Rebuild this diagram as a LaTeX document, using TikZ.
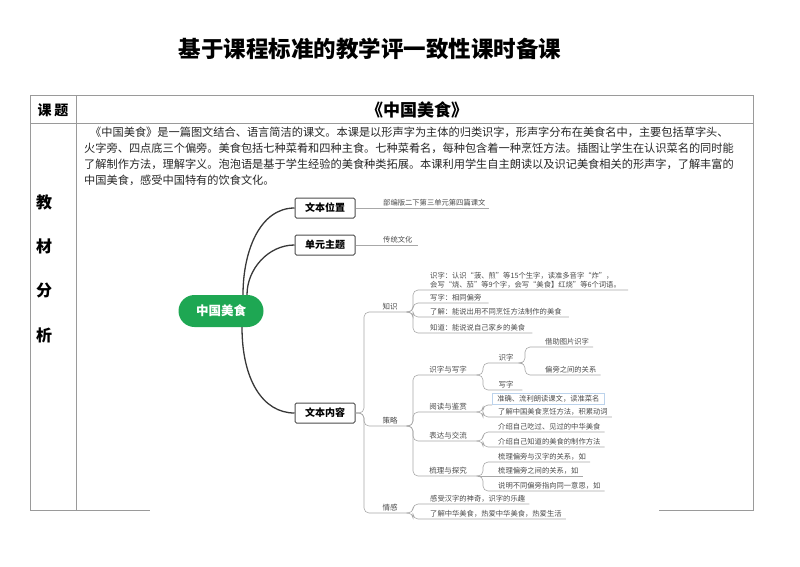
\documentclass[tikz,border=0pt]{standalone}
\usepackage{fontspec}
\setmainfont{Noto Sans CJK SC}
\definecolor{mmgreen}{HTML}{1EA753}
\definecolor{tgray}{HTML}{9A9A9A}
\definecolor{lgray}{HTML}{A8A8A8}
\definecolor{ltxt}{HTML}{4A4A4A}
\definecolor{lblue}{HTML}{BCD3EC}
\tikzset{
  tline/.style={draw=tgray, line width=0.9pt},
  titlef/.style={inner sep=0, font=\bfseries\fontsize{22.5}{24}\selectfont},
  hd/.style={inner sep=0, font=\bfseries\fontsize{14}{15}\selectfont},
  sidech/.style={inner sep=0, font=\bfseries\fontsize{16}{17}\selectfont},
  para/.style={anchor=west, inner sep=0, font=\fontsize{11.2}{13}\selectfont, text=black!85},
  lbox/.style={draw=black!70, line width=1pt, rounded corners=1.5pt, fill=white, minimum width=60pt, minimum height=20pt, inner sep=0, font=\bfseries\fontsize{10}{11}\selectfont},
  rootbox/.style={fill=mmgreen, rounded corners=16pt, minimum width=85pt, minimum height=32pt, inner sep=0, text=white, font=\bfseries\fontsize{12.5}{13}\selectfont},
  mainln/.style={draw=black!78, line width=1.3pt},
  br/.style={draw=lgray, line width=0.6pt, rounded corners=5pt},
  lf/.style={anchor=south west, inner xsep=1pt, inner ysep=1.5pt, font=\fontsize{7.3}{8.8}\selectfont, text=ltxt},
  lab/.style={anchor=south west, inner xsep=0pt, inner ysep=1.5pt, font=\fontsize{7.5}{9}\selectfont, text=ltxt},
}
\begin{document}
\begin{tikzpicture}[x=1pt,y=-1pt]
\useasboundingbox (0,0) rectangle (800,566);
% title
\node[titlef] (title) at (370,49) {基于课程标准的教学评一致性课时备课};
% table frame
\draw[tline] (30,95) -- (753,95);
\draw[tline] (30,123) -- (753,123);
\draw[tline] (30,95) -- (30,510) -- (150,510);
\draw[tline] (76,95) -- (76,510);
\draw[tline] (753,95) -- (753,510) -- (659,510);
% header
\node[hd] (kt) at (53,110) {课\hspace{3pt}题};
\node[hd, font=\bfseries\fontsize{17}{18}\selectfont] (ktitle) at (417,110) {《中国美食》};
% side
\node[sidech] (c1) at (44,202) {教};
\node[sidech] (c2) at (44,246) {材};
\node[sidech] (c3) at (44,290) {分};
\node[sidech] (c4) at (44,335) {析};
% paragraph
\node[para] (p1) at (90,132) {《中国美食》是一篇图文结合、语言简洁的课文。本课是以形声字为主体的归类识字，形声字分布在美食名中，主要包括草字头、};
\node[para] (p2) at (84,148) {火字旁、四点底三个偏旁。美食包括七种菜肴和四种主食。七种菜肴名，每种包含着一种烹饪方法。插图让学生在认识菜名的同时能};
\node[para] (p3) at (84,164) {了解制作方法，理解字义。泡泡语是基于学生经验的美食种类拓展。本课利用学生自主朗读以及识记美食相关的形声字，了解丰富的};
\node[para] (p4) at (84,180) {中国美食，感受中国特有的饮食文化。};
% mind map level 0/1
\node[rootbox] (root) at (221,311) {中国美食};
\node[lbox] (b1) at (325,208) {文本位置};
\node[lbox] (b2) at (325,245) {单元主题};
\node[lbox] (b3) at (325,413) {文本内容};
\coordinate (r1) at ([xshift=22pt]root.north);
\coordinate (r2) at ([xshift=26pt]root.north);
\coordinate (r3) at ([xshift=21pt]root.south);
\draw[mainln] (r1) .. controls ([yshift=45pt]r1) and ([xshift=-34pt]b1.west) .. (b1.west);
\draw[mainln] (r2) .. controls ([yshift=26pt]r2) and ([xshift=-26pt]b2.west) .. (b2.west);
\draw[mainln] (r3) .. controls ([yshift=-52pt]r3) and ([xshift=-32pt]b3.west) .. (b3.west);
% leaves of b1, b2
\node[lf] (t1) at (382,208) {部编版二下第三单元第四篇课文};
\node[lf] (t2) at (382,245) {传统文化};
\draw[br] (b1.east) -- ([xshift=2pt]t1.south east);
\draw[br] (b2.east) -- ([xshift=4pt]t2.south east);
% level 2
\node[lab, minimum width=36pt] (k) at (372,312) {知识};
\node[lab, minimum width=36pt] (s) at (372,426) {策略};
\node[lab, minimum width=36pt] (q) at (372,513) {情感};
\foreach \c in {k,s,q}
  \draw[br] (b3.east) -| ([xshift=-8pt]\c.south west) -- (\c.south east);
% knowledge
\node[lf, align=left] (k1) at (429,290) {识字：认识“菠、煎”等15个生字，读准多音字“炸”，\\会写“烧、茄”等9个字，会写“美食】红烧”等6个词语。};
\node[lf] (k2) at (429,303) {写字：相同偏旁};
\node[lf] (k3) at (429,317) {了解：能说出用不同烹饪方法制作的美食};
\node[lf] (k4) at (429,333) {知道：能说说自己家乡的美食};
\foreach \c in {k1,k2,k3,k4}
  \draw[br] (k.south east) -| ([xshift=-16pt]\c.south west) -- ([xshift=6pt]\c.south east);
% strategy
\node[lab, minimum width=60pt] (s1) at (418,375) {识字与写字};
\node[lab, minimum width=60pt] (s2) at (418,412) {阅读与鉴赏};
\node[lab, minimum width=60pt] (s3) at (418,441) {表达与交流};
\node[lab, minimum width=60pt] (s4) at (418,476) {梳理与探究};
\foreach \c in {s1,s2,s3,s4}
  \draw[br] (s.south east) -| ([xshift=-5pt]\c.south west) -- (\c.south east);
\node[lab, minimum width=32pt] (s11) at (490,363) {识字};
\node[lab, minimum width=32pt] (s12) at (490,390) {写字};
\foreach \c in {s11,s12}
  \draw[br] (s1.south east) -| ([xshift=-7pt]\c.south west) -- (\c.south east);
\node[lf] (s111) at (544,347) {借助图片识字};
\node[lf] (s112) at (544,375) {偏旁之间的关系};
\foreach \c in {s111,s112}
  \draw[br] (s11.south east) -| ([xshift=-19pt]\c.south west) -- ([xshift=3pt]\c.south east);
\node[lf, draw=lblue, line width=0.6pt, inner xsep=5pt, inner ysep=2pt, anchor=south west] (s21) at (492,405) {准确、流利朗读课文，读准菜名};
\node[lf] (s22) at (497,417) {了解中国美食烹饪方法，积累动词};
\draw[br] (s2.south east) -| ([xshift=-9pt]s21.south west) -- (s21.south west);
\draw[br] (s2.south east) -| ([xshift=-14pt]s22.south west) -- ([xshift=3pt]s22.south east);
\node[lf] (s31) at (497,432) {介绍自己吃过、见过的中华美食};
\node[lf] (s32) at (497,447) {介绍自己知道的美食的制作方法};
\foreach \c in {s31,s32}
  \draw[br] (s3.south east) -| ([xshift=-14pt]\c.south west) -- ([xshift=3pt]\c.south east);
\node[lf] (s41) at (497,462) {梳理偏旁与汉字的关系，如};
\node[lf] (s42) at (497,476) {梳理偏旁之间的关系，如};
\node[lf] (s43) at (497,491) {说明不同偏旁指向同一意思，如};
\draw[br] (s4.south east) -| ([xshift=-14pt]s41.south west) -- ([xshift=3pt]s41.south east);
\draw[br] (s4.south east) -- ([xshift=3pt]s42.south east);
\draw[br] (s4.south east) -| ([xshift=-14pt]s43.south west) -- ([xshift=3pt]s43.south east);
% emotion
\node[lf] (q1) at (429,504) {感受汉字的神奇，识字的乐趣};
\node[lf] (q2) at (429,519) {了解中华美食，热爱中华美食，热爱生活};
\foreach \c in {q1,q2}
  \draw[br] (q.south east) -| ([xshift=-16pt]\c.south west) -- ([xshift=3pt]\c.south east);
\end{tikzpicture}
\end{document}
